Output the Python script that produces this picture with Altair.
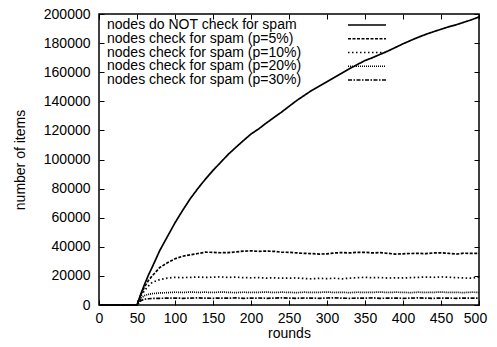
import altair as alt
import pandas as pd

# ---------------- data ----------------
rounds = [0, 50, 55, 60, 65, 70, 80, 90, 100, 110, 120, 130, 140, 150, 160, 170,
          180, 190, 200, 210, 220, 230, 240, 250, 260, 270, 280, 290, 300, 310,
          320, 330, 340, 350, 360, 370, 380, 390, 400, 410, 420, 430, 440, 450,
          460, 470, 480, 490, 500]

no_check = [0, 0, 7500, 14300, 20500, 26000, 37500, 47000, 56500, 65000, 73000,
            80000, 86500, 92500, 98000, 103500, 108300, 113000, 117500, 121000,
            125000, 128800, 132500, 136500, 140500, 144000, 147500, 150500,
            153500, 156500, 159500, 162500, 165300, 168000, 170000, 172300,
            174500, 177000, 179500, 181800, 184000, 186000, 187800, 189500,
            191200, 192600, 194300, 196000, 198000]

p5 = [0, 0, 7000, 12500, 16800, 20000, 25800, 29000, 31800, 33500, 34500, 35400,
      36300, 36200, 35900, 36000, 36500, 37000, 37200, 36900, 37000, 36900,
      36300, 36200, 35800, 35500, 35300, 35000, 35200, 35800, 36000, 35800,
      36200, 36200, 35800, 36000, 35500, 35000, 35200, 35400, 35500, 35300,
      35800, 35900, 35500, 35000, 35600, 35500, 35500]

p10 = [0, 0, 6000, 10000, 13000, 15500, 17500, 18500, 19000, 18800, 19000, 19200,
       19000, 19100, 19300, 19000, 19200, 18800, 18700, 18800, 18500, 18700,
       18400, 18500, 18600, 18200, 18000, 18300, 18100, 18400, 18000, 18500,
       18800, 19000, 18800, 18900, 18500, 18700, 18600, 18800, 19000, 19200,
       19000, 19300, 19100, 18800, 18600, 18400, 19200]

p20 = [0, 0, 4500, 6500, 7300, 7800, 8300, 8500, 8800, 8600, 8900, 8700, 8800,
       8600, 8900, 8700, 8500, 8800, 8600, 8700, 8900, 8600, 8800, 8700, 8500,
       8800, 8600, 8700, 8900, 8600, 8700, 8500, 8800, 8600, 8700, 8900, 8600,
       8800, 8700, 8500, 8800, 8600, 8700, 8900, 8600, 8700, 8500, 8800, 8700]

p30 = [0, 0, 3000, 4000, 4300, 4500, 4600, 4700, 4800, 4600, 4700, 4900, 4700,
       4600, 4800, 4700, 4900, 4600, 4700, 4800, 4600, 4700, 4900, 4700, 4600,
       4800, 4700, 4600, 4800, 4900, 4700, 4600, 4800, 4700, 4900, 4600, 4700,
       4800, 4600, 4700, 4900, 4700, 4600, 4800, 4700, 4600, 4800, 4700, 4700]

names = ["nodes do NOT check for spam",
         "nodes check for spam (p=5%)",
         "nodes check for spam (p=10%)",
         "nodes check for spam (p=20%)",
         "nodes check for spam (p=30%)"]

x_ticks = [0, 50, 100, 150, 200, 250, 300, 350, 400, 450, 500]
y_ticks = [0, 20000, 40000, 60000, 80000, 100000, 120000, 140000, 160000,
           180000, 200000]

# ---------------- styles ----------------
dashes = [[1, 0], [3, 1.5], [1.5, 2.5], [1, 1], [4, 1.5, 1.5, 1.5]]
FONT = "Liberation Sans"

rows = []
for name, vals in zip(names, [no_check, p5, p10, p20, p30]):
    for r, v in zip(rounds, vals):
        rows.append({"round": r, "items": v, "series": name})
df = pd.DataFrame(rows)
leg_df = pd.DataFrame({"series": names})

x_scale = alt.Scale(domain=[0, 500], nice=False, zero=False)
y_scale = alt.Scale(domain=[0, 200000], nice=False)
dash_scale = alt.Scale(domain=names, range=dashes)
leg_scale = alt.Scale(type="point", domain=names, range=[11, 66], padding=0)

common_axis = dict(offset=-5, tickSize=5, tickColor="black", tickWidth=1,
                   domain=False, grid=False, labelFont=FONT, labelFontSize=14,
                   labelColor="black", titleFont=FONT, titleFontSize=14,
                   titleFontWeight="normal", titleColor="black",
                   labelOverlap=False, labelFlush=False, format="d")

lines = alt.Chart(df).mark_line(color="black", strokeWidth=1.7).encode(
    x=alt.X("round:Q", scale=x_scale,
            axis=alt.Axis(orient="bottom", values=x_ticks, labelPadding=6,
                          labelOffset={"condition": {"test": "datum.value == 500", "value": -4}, "value": 0},
                          title="rounds", titleBaseline="alphabetic", titleY=37,
                          **common_axis)),
    y=alt.Y("items:Q", scale=y_scale,
            axis=alt.Axis(orient="left", values=y_ticks, labelPadding=9,
                          title="number of items", titlePadding=16, **common_axis)),
    strokeDash=alt.StrokeDash("series:N", scale=dash_scale, legend=None),
)

mirror = alt.Chart(df).mark_line(strokeOpacity=0).encode(
    x=alt.X("round:Q", scale=x_scale,
            axis=alt.Axis(orient="top", values=x_ticks, labels=False, title=None,
                          **common_axis)),
    y=alt.Y("items:Q", scale=y_scale,
            axis=alt.Axis(orient="right", values=y_ticks, labels=False, title=None,
                          **common_axis)),
    detail="series:N",
)

leg_text = alt.Chart(leg_df).mark_text(
    align="left", baseline="middle", font=FONT, fontSize=14, color="black"
).encode(
    x=alt.value(8),
    y=alt.Y("series:N", scale=leg_scale, axis=None),
    text="series:N",
)

leg_lines = alt.Chart(leg_df).mark_rule(color="black", strokeWidth=1.7).encode(
    x=alt.value(249),
    x2=alt.value(287),
    y=alt.Y("series:N", scale=leg_scale, axis=None),
    strokeDash=alt.StrokeDash("series:N", scale=dash_scale, legend=None),
)

chart = alt.layer(lines, mirror, leg_text, leg_lines).resolve_scale(
    y="independent"
).resolve_axis(
    x="independent", y="independent"
).properties(
    width=380, height=291,
    autosize=alt.AutoSizeParams(type="none"),
    padding={"left": 91, "top": 6, "right": 10, "bottom": 34},
    background="white",
).configure_view(stroke="black", strokeWidth=1.5)

chart.save("out.html", embed_options={"renderer": "svg", "actions": False})
